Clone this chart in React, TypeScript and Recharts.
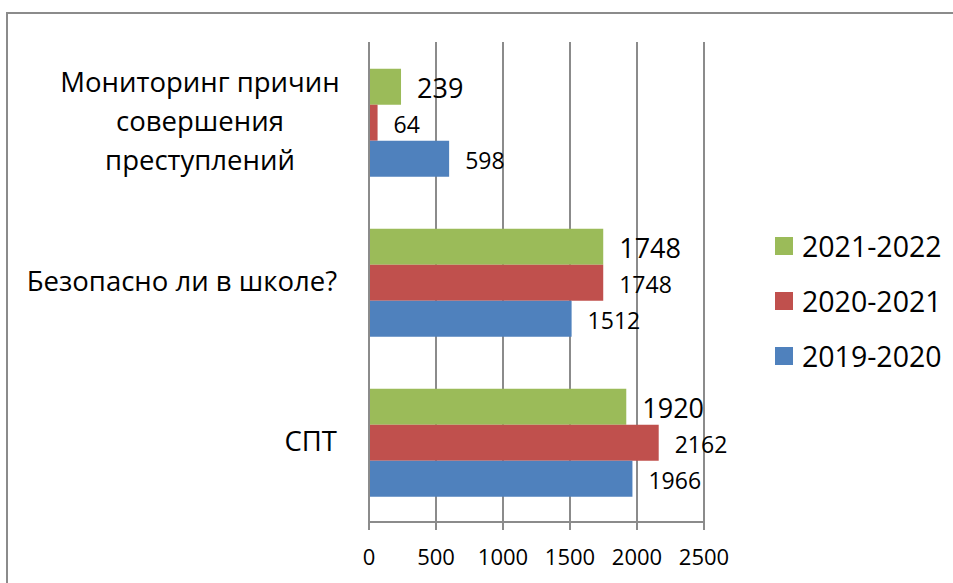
import React from "react";
import { BarChart, Bar, XAxis, YAxis, CartesianGrid, LabelList, Legend } from "recharts";

const categories = [
  "Мониторинг причин\nсовершения\nпреступлений",
  "Безопасно ли в школе?",
  "СПТ",
];
const series2019 = [598, 1512, 1966];
const series2020 = [64, 1748, 2162];
const series2021 = [239, 1748, 1920];
const xTicks = [0, 500, 1000, 1500, 2000, 2500];
const bandTicks = [0, 1, 2, 3];

const seriesDefs = [
  { key: "s2021", name: "2021-2022", color: "#9BBB59", labelSize: 27 },
  { key: "s2020", name: "2020-2021", color: "#C0504D", labelSize: 23 },
  { key: "s2019", name: "2019-2020", color: "#4F81BD", labelSize: 23 },
];

const data = categories.map((name, i) => ({
  name,
  s2019: series2019[i],
  s2020: series2020[i],
  s2021: series2021[i],
}));

const FONT = "'Open Sans', sans-serif";
const GRAY = "#8b8b8b";

const CategoryTick = (props: any) => {
  const { x, y, payload } = props;
  const lines = String(payload.value).split("\n");
  const lh = 39;
  if (lines.length === 1) {
    return (
      <text x={x} y={y} dy={9} textAnchor="end" fontSize={27.5} fontFamily={FONT} fill="#000">
        {lines[0]}
      </text>
    );
  }
  const cx = x - 137;
  const start = y - ((lines.length - 1) * lh) / 2;
  return (
    <g>
      {lines.map((l, i) => (
        <text key={i} x={cx} y={start + i * lh} dy={9} textAnchor="middle" fontSize={27.5} fontFamily={FONT} fill="#000">
          {l}
        </text>
      ))}
    </g>
  );
};

const LegendContent = (props: any) => {
  const payload = [...(props.payload || [])].sort(
    (a: any, b: any) =>
      seriesDefs.findIndex((s) => s.name === a.value) - seriesDefs.findIndex((s) => s.name === b.value)
  );
  return (
    <div style={{ fontFamily: FONT }}>
      {payload.map((p: any, i: number) => (
        <div key={i} style={{ display: "flex", alignItems: "center", height: 54.7 }}>
          <div style={{ width: 18, height: 18, flexShrink: 0, background: p.color, marginRight: 9 }} />
          <span style={{ fontSize: 28.5, color: "#000", lineHeight: "32px", whiteSpace: "nowrap" }}>{p.value}</span>
        </div>
      ))}
    </div>
  );
};

export default function App() {
  return (
    <div style={{ position: "fixed", left: 0, top: 0, width: 953, height: 583, overflow: "hidden", background: "#fff" }}>
      <svg width={953} height={583} style={{ position: "absolute", left: 0, top: 0, display: "block" }}>
        <path d="M7,600 V13 H960" fill="none" stroke={GRAY} strokeWidth={2} />
      </svg>
      <div style={{ position: "absolute", left: 0, top: 0 }}>
        <BarChart
          width={953}
          height={583}
          data={data}
          layout="vertical"
          margin={{ top: 42, right: 249, bottom: 0, left: 0 }}
          barCategoryGap="16.7%"
          barGap={0}
          accessibilityLayer={false}
        >
          <CartesianGrid horizontal={false} stroke={GRAY} strokeWidth={2} yAxisId="cat" />
          <XAxis
            type="number"
            domain={[0, 2500]}
            ticks={xTicks}
            height={61}
            stroke={GRAY}
            strokeWidth={2}
            tickSize={8}
            tickMargin={19}
            tick={{ fontSize: 22, fontFamily: FONT, fill: "#000" }}
            interval={0}
          />
          <YAxis
            yAxisId="bnd"
            type="number"
            domain={[0, 3]}
            allowDataOverflow
            ticks={bandTicks}
            tick={false}
            tickSize={10}
            width={10}
            stroke={GRAY}
            strokeWidth={2}
          />
          <YAxis
            yAxisId="cat"
            type="category"
            dataKey="name"
            width={359}
            axisLine={false}
            tickLine={false}
            tickSize={0}
            tickMargin={22}
            tick={<CategoryTick />}
            interval={0}
          />
          <Legend
            layout="horizontal"
            verticalAlign="middle"
            align="center"
            content={<LegendContent />}
            wrapperStyle={{ left: 775, top: 219, width: 178, height: 170 }}
          />
          {seriesDefs.map((s) => (
            <Bar
              key={s.key}
              dataKey={s.key}
              name={s.name}
              fill={s.color}
              yAxisId="cat"
              isAnimationActive={false}
            >
              <LabelList
                dataKey={s.key}
                position="right"
                offset={16}
                fontSize={s.labelSize}
                fontFamily={FONT}
                fill="#000"
                dy={2}
              />
            </Bar>
          ))}
        </BarChart>
      </div>
    </div>
  );
}
